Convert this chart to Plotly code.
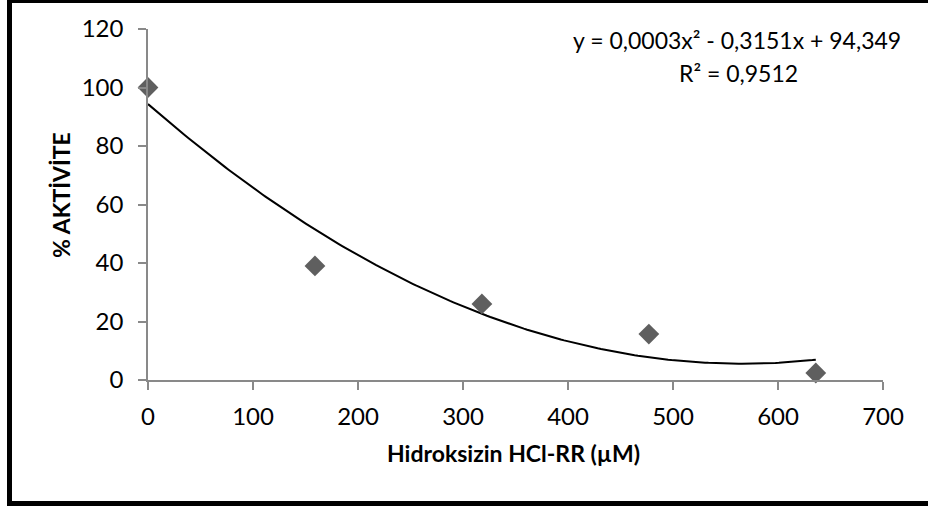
import numpy as np
import plotly.graph_objects as go

# Data
conc = [0, 159, 318, 477, 636]          # Hidroksizin HCl-RR (µM)
activity = [100, 39, 26, 15.7, 2.4]      # % AKTİVİTE
x_ticks = [0, 100, 200, 300, 400, 500, 600, 700]
y_ticks = [0, 20, 40, 60, 80, 100, 120]
eq_line1 = "y = 0,0003x² - 0,3151x + 94,349"
eq_line2 = "R² = 0,9512"
x_title = "Hidroksizin HCl-RR (µM)"
y_title = "% AKTİVİTE"

# polynomial (order 2) trendline fitted to the data
coef = np.polyfit(conc, activity, 2)
xs = np.linspace(min(conc), max(conc), 200)
ys = np.polyval(coef, xs)

W, H = 928, 508
L, R, T, B = 148, 45, 29, 128
pw, ph = W - L - R, H - T - B
def px(x):
    return (x - L) / pw
def py(y):
    return (H - B - y) / ph

FONT = "Lato"
fig = go.Figure()
fig.add_trace(go.Scatter(x=xs, y=ys, mode="lines", cliponaxis=False,
                         line=dict(color="black", width=2), hoverinfo="skip"))
fig.add_trace(go.Scatter(x=conc, y=activity, mode="markers", cliponaxis=False,
                         marker=dict(symbol="diamond", size=16, color="#5f5f5f",
                                     line=dict(width=0))))

axis_common = dict(showgrid=False, zeroline=False, showline=True, linecolor="#898989",
                   linewidth=1.5, ticks="outside", ticklen=8, tickcolor="#898989",
                   tickwidth=1.5, tickfont=dict(family=FONT, size=24, color="black"))
fig.update_xaxes(range=[0, 700], tickvals=x_ticks, ticklabelstandoff=6, **axis_common)
fig.update_yaxes(range=[0, 120], tickvals=y_ticks, ticklabelstandoff=10, **axis_common)

fig.add_annotation(x=px(513), y=py(453), xref="paper", yref="paper", text=x_title,
                   xanchor="center", yanchor="middle", showarrow=False,
                   font=dict(family=FONT, size=23, color="black", weight="bold"))
fig.add_annotation(x=px(61), y=py(195), xref="paper", yref="paper", text=y_title,
                   xanchor="center", yanchor="middle", textangle=-90, showarrow=False,
                   font=dict(family=FONT, size=23, color="black", weight="bold"))
fig.add_annotation(x=px(737), y=py(40), xref="paper", yref="paper", text=eq_line1,
                   xanchor="center", yanchor="middle", showarrow=False,
                   font=dict(family=FONT, size=23, color="black"))
fig.add_annotation(x=px(738), y=py(73), xref="paper", yref="paper", text=eq_line2,
                   xanchor="center", yanchor="middle", showarrow=False,
                   font=dict(family=FONT, size=23, color="black"))

# chart frame (thick black border)
fig.add_shape(type="rect", xref="paper", yref="paper",
              x0=px(9.5), x1=px(940), y0=py(503.5), y1=py(0.5),
              line=dict(color="black", width=5), fillcolor="rgba(0,0,0,0)", layer="above")

fig.update_layout(width=W, height=H, margin=dict(l=L, r=R, t=T, b=B),
                  plot_bgcolor="white", paper_bgcolor="white", showlegend=False)
fig.write_html("out.html")
